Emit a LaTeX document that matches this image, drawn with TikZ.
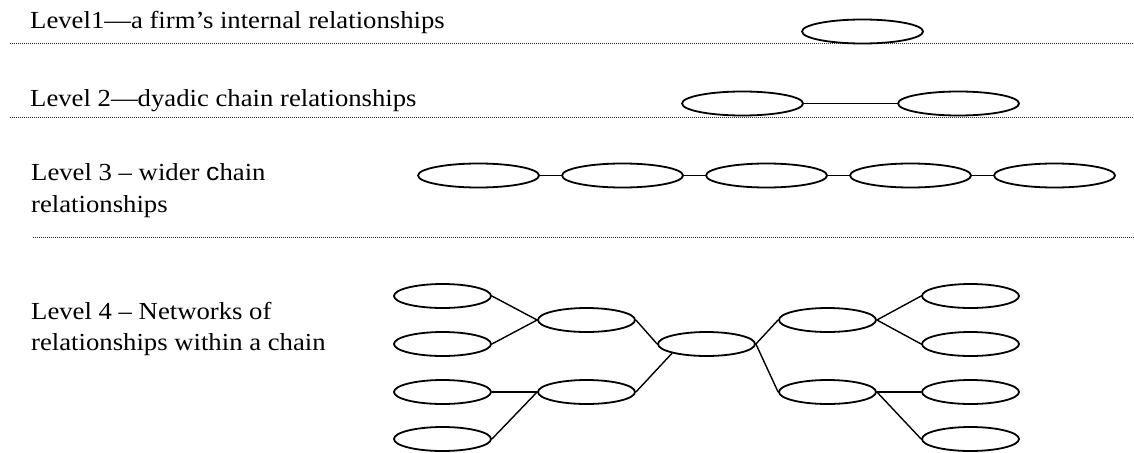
\documentclass[tikz,border=0pt]{standalone}
\usepackage{fontspec}
\setmainfont{Liberation Serif}[FakeStretch=1.09]
\newfontfamily\arialf{Liberation Sans}[FakeStretch=1.09]
\usetikzlibrary{shapes.geometric}
\begin{document}
\begin{tikzpicture}[x=1pt,y=-1pt,
  oval/.style={ellipse, draw, line width=1.8pt, minimum width=97pt, minimum height=24pt, inner sep=0pt},
  bigoval/.style={oval, minimum width=121pt},
  link/.style={line width=1.4pt},
  sep/.style={line width=0.9pt, dash pattern=on 0.9pt off 1.1pt, black!85},
  lbl/.style={anchor=base west, inner sep=0pt, font=\fontsize{24.5}{28}\selectfont}]
\useasboundingbox (0,0) rectangle (1134,452);

% separators
\coordinate (s1a) at (10,43.5);  \coordinate (s1b) at (1134,43.5);
\coordinate (s2a) at (10,117);   \coordinate (s2b) at (1134,117);
\coordinate (s3a) at (33,237);   \coordinate (s3b) at (1134,237);
\draw[sep] (s1a) -- (s1b);
\draw[sep] (s2a) -- (s2b);
\draw[sep] (s3a) -- (s3b);

% labels
\node[lbl] (t1) at (30,29) {Level1---a firm’s internal relationships};
\node[lbl] (t2) at (30,106) {Level 2---dyadic chain relationships};
\node[lbl] (t3a) at (31,180) {Level 3 -- wider {\arialf c}hain};
\node[lbl] (t3b) at (31,212) {relationships};
\node[lbl] (t4a) at (31,319) {Level 4 -- Networks of};
\node[lbl] (t4b) at (31,350) {relationships within a chain};

% level 1
\node[bigoval] (L1) at (862.5,31.5) {};

% level 2
\node[bigoval] (L2a) at (742.5,103.5) {};
\node[bigoval] (L2b) at (958.5,103.5) {};
\draw[link] (L2a.east) -- (L2b.west);

% level 3
\foreach \i/\x in {1/478.5,2/622.5,3/766.5,4/910.5,5/1054.5}
  \node[bigoval] (L3\i) at (\x,175.5) {};
\draw[link] (L31.east) -- (L32.west);
\draw[link] (L32.east) -- (L33.west);
\draw[link] (L33.east) -- (L34.west);
\draw[link] (L34.east) -- (L35.west);

% level 4
\node[oval] (A1) at (442.5,296) {};
\node[oval] (A2) at (442.5,344) {};
\node[oval] (A3) at (442.5,392) {};
\node[oval] (A4) at (442.5,439) {};
\node[oval] (B1) at (586.5,320) {};
\node[oval] (B2) at (586.5,392) {};
\node[oval] (M)  at (706.5,344) {};
\node[oval] (C1) at (827.5,320) {};
\node[oval] (C2) at (827.5,392) {};
\node[oval] (D1) at (970.5,296) {};
\node[oval] (D2) at (970.5,344) {};
\node[oval] (D3) at (970.5,392) {};
\node[oval] (D4) at (970.5,439) {};

\draw[link] (A1.east) -- (B1.west);
\draw[link] (A2.east) -- (B1.west);
\draw[link] (A3.east) -- (B2.west);
\draw[link] (A4.east) -- (B2.west);
\draw[link] (B1.east) -- (M.west);
\draw[link] (B2.east) -- (M.195);
\draw[link] (M.east) -- (C1.west);
\draw[link] (M.east) -- (C2.west);
\draw[link] (C1.east) -- (D1.west);
\draw[link] (C1.east) -- (D2.west);
\draw[link] (C2.east) -- (D3.west);
\draw[link] (C2.east) -- (D4.west);
\end{tikzpicture}
\end{document}
